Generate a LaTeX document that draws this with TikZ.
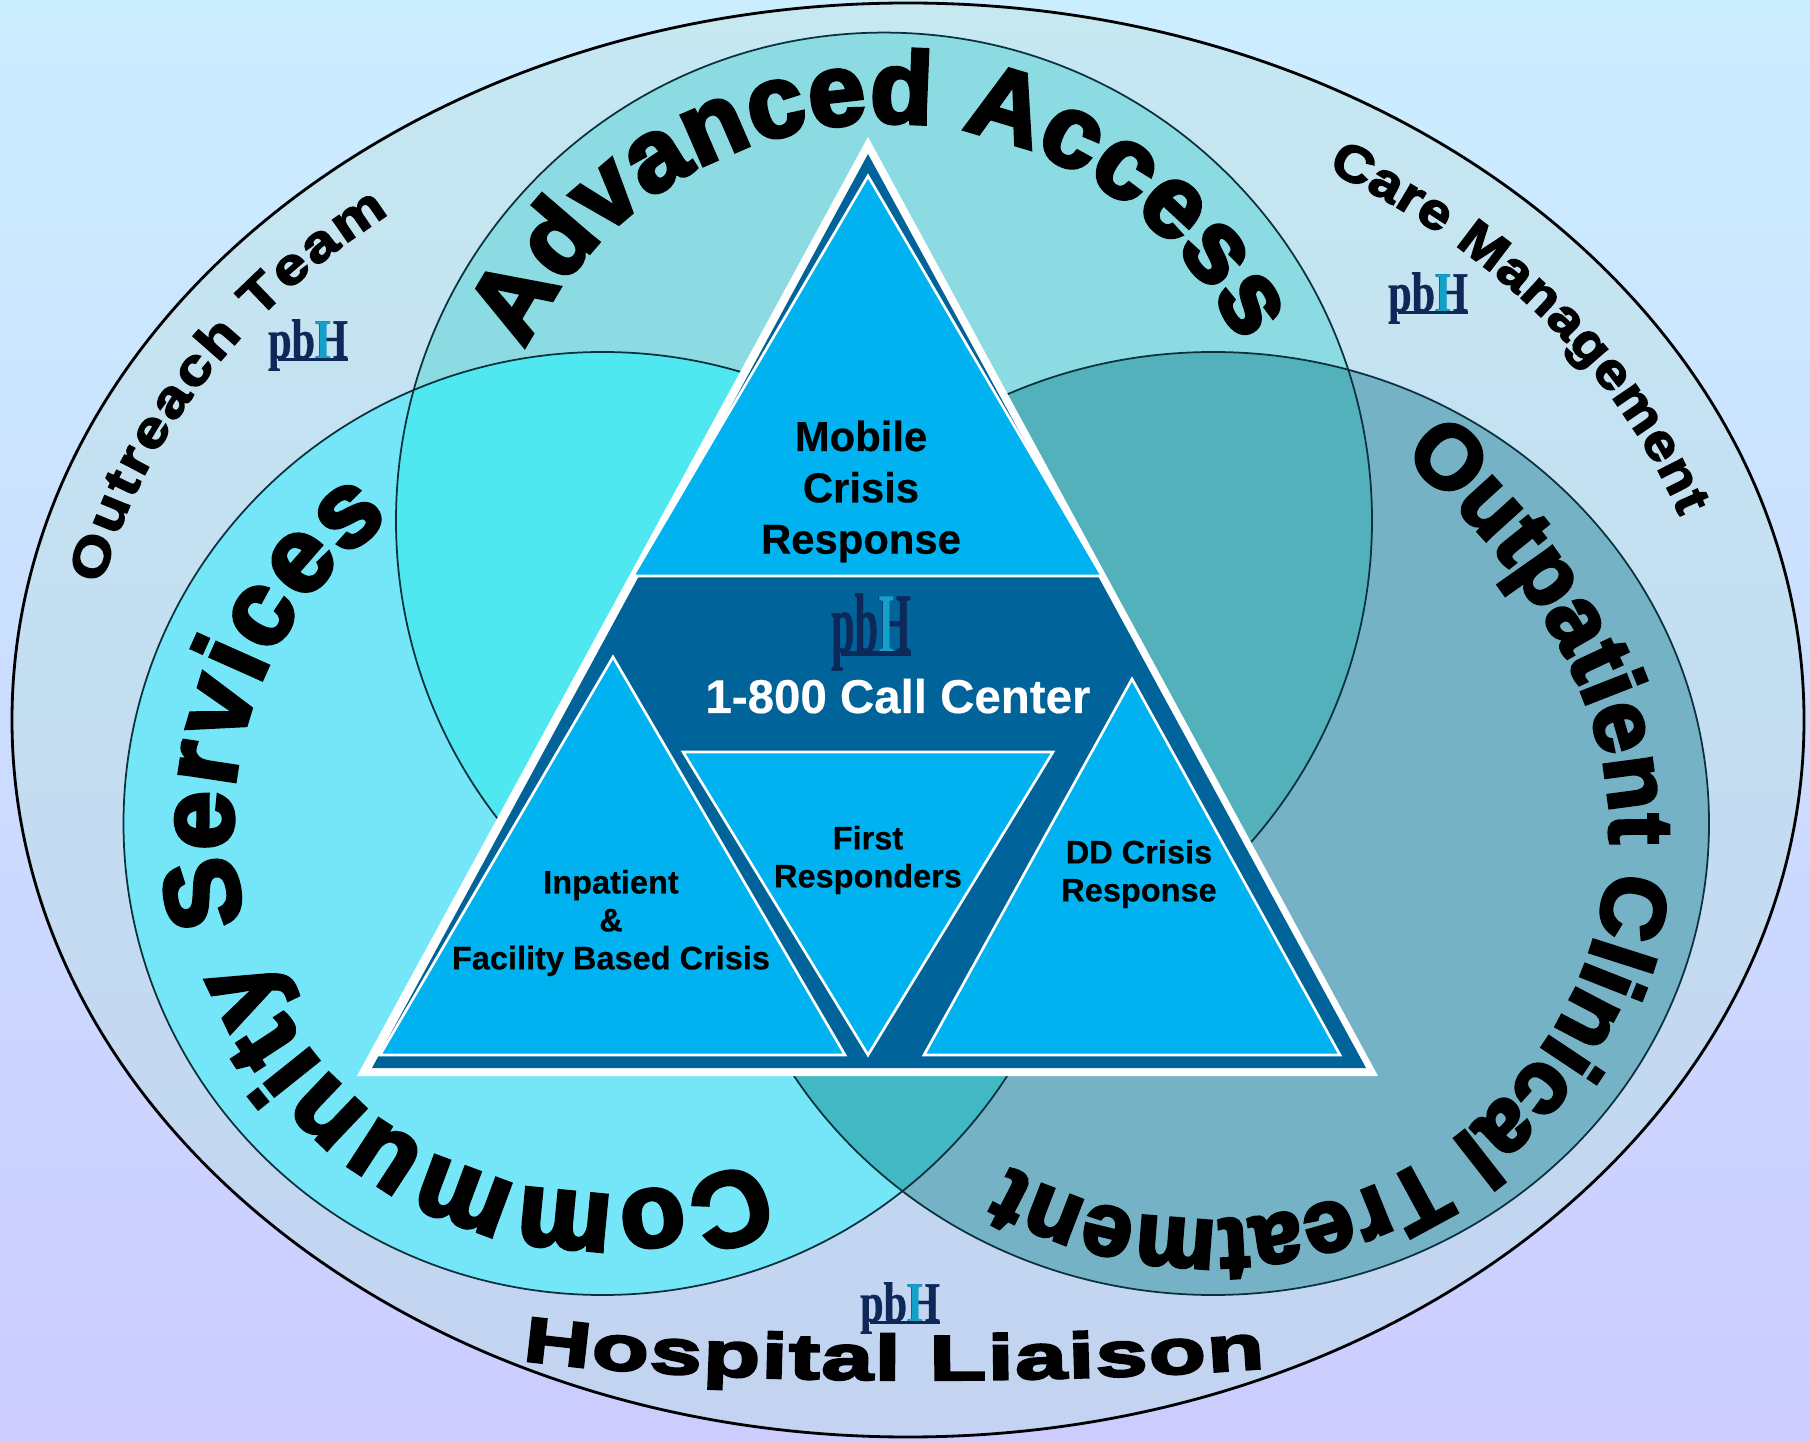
\documentclass[tikz,border=0pt]{standalone}
\usepackage{fontspec}
\usetikzlibrary{decorations.text}
\setmainfont[FakeBold=0.4]{Liberation Sans Bold}
\newfontfamily\arcfont[FakeBold=4]{Liberation Sans Bold}
\newfontfamily\sideFont[FakeBold=3,FakeStretch=1.2]{Liberation Sans Bold}
\newfontfamily\careFont[FakeBold=3,FakeStretch=1.12]{Liberation Sans Bold}
\newfontfamily\wideFont[FakeBold=4,FakeStretch=1.48]{Liberation Sans Bold}
\newfontfamily\logofont[FakeStretch=0.74,FakeBold=0.6]{Liberation Serif Bold}
\newcommand{\bigarc}{\arcfont\fontsize{29}{29}\selectfont}
\newcommand{\comarc}{\arcfont\fontsize{30}{30}\selectfont}
\newcommand{\opdarc}{\arcfont\fontsize{25.5}{25.5}\selectfont}
\newcommand{\smallarc}{\sideFont\fontsize{14.5}{14.5}\selectfont}
\newcommand{\carearc}{\careFont\fontsize{14.5}{14.5}\selectfont}
\newcommand{\widearc}{\wideFont\fontsize{18}{18}\selectfont}
\newcommand{\pbhmark}{pb\rlap{H}\rlap{\textcolor{pbhteal}{I}}\phantom{H}\llap{\rule[-0.6pt]{20pt}{0.8pt}}}
\definecolor{pbhnavy}{RGB}{15, 40, 90}
\definecolor{pbhteal}{RGB}{20, 160, 200}
\definecolor{skytop}{RGB}{203, 238, 255}
\definecolor{skybot}{RGB}{204, 204, 255}
\definecolor{bigtop}{RGB}{197, 232, 241}
\definecolor{bigbot}{RGB}{195, 211, 241}
\definecolor{acc}{RGB}{140, 219, 227}
\definecolor{com}{RGB}{117, 229, 248}
\definecolor{opd}{RGB}{118, 178, 197}
\definecolor{acccom}{RGB}{80, 232, 240}
\definecolor{accopd}{RGB}{82, 177, 186}
\definecolor{comopd}{RGB}{67, 184, 197}
\definecolor{triblue}{RGB}{0, 178, 240}
\definecolor{tridark}{RGB}{0, 99, 154}
\definecolor{rimline}{RGB}{10, 50, 60}
\tikzset{tri/.style = {fill=triblue, draw=white, line width=0.75pt, line join=miter}}
\tikzset{rim/.style = {draw=rimline, line width=0.5pt}}
\tikzset{arctext/.style = {decorate, decoration={text along path, text align={fit to path}, text={#1}}}}
\tikzset{logo/.style = {font=\logofont\fontsize{16.2}{16.2}\selectfont, text=pbhnavy, inner sep=0}}
\tikzset{midlabel/.style = {font=\fontsize{11.9}{14.6}\selectfont, align=center, inner sep=0}}
\tikzset{lowlabel/.style = {font=\fontsize{9.25}{10.8}\selectfont, align=center, inner sep=0}}

\begin{document}
\begin{tikzpicture}
    \useasboundingbox (0, 0) rectangle (18.1, 14.4);
    \shade [top color=skytop, bottom color=skybot] (0, 0) rectangle (18.1, 14.4);
    \shade [top color=bigtop, bottom color=bigbot] (9.08, 7.2) ellipse (8.96 and 7.17);
    \draw [line width=0.8pt] (9.08, 7.2) ellipse (8.96 and 7.17);

    \fill [com] (6.025, 6.165) ellipse (4.79 and 4.715);
    \fill [opd] (12.13, 6.165) ellipse (4.96 and 4.715);
    \fill [acc] (8.84, 9.194) circle [radius=4.88];
    \begin{scope}
      \clip (8.84, 9.194) circle [radius=4.88];
      \fill [acccom] (6.025, 6.165) ellipse (4.79 and 4.715);
      \fill [accopd] (12.13, 6.165) ellipse (4.96 and 4.715);
    \end{scope}
    \begin{scope}
      \clip (6.025, 6.165) ellipse (4.79 and 4.715);
      \fill [comopd] (12.13, 6.165) ellipse (4.96 and 4.715);
    \end{scope}
    \draw [rim] (6.025, 6.165) ellipse (4.79 and 4.715);
    \draw [rim] (12.13, 6.165) ellipse (4.96 and 4.715);
    \draw [rim] (8.84, 9.194) circle [radius=4.88];

    \fill [white] (8.68, 13.03) -- (3.57, 3.64) -- (13.78, 3.64) -- cycle;
    \fill [tridark] (8.68, 12.86) -- (3.72, 3.72) -- (13.66, 3.72) -- cycle;
    \draw [tri] (8.68, 12.64) -- (6.33, 8.64) -- (11.02, 8.64) -- cycle;
    \draw [tri] (6.13, 7.83) -- (3.80, 3.85) -- (8.45, 3.85) -- cycle;
    \draw [tri] (6.83, 6.88) -- (10.53, 6.88) -- (8.68, 3.85) -- cycle;
    \draw [tri] (11.32, 7.61) -- (9.24, 3.85) -- (13.40, 3.85) -- cycle;

    \node [midlabel] (mobile) at (8.61, 9.485) {Mobile\\Crisis\\Response};
    \node [midlabel, text=white, font=\fontsize{13.5}{14}\selectfont, anchor=base] (callcenter) at (8.98, 7.27) {1-800 Call Center};
    \node [lowlabel] (inpatient) at (6.11, 5.17) {Inpatient\\\&\\Facility Based Crisis};
    \node [lowlabel] (first) at (8.68, 5.80) {First\\Responders};
    \node [lowlabel] (ddcrisis) at (11.39, 5.66) {DD Crisis\\Response};

    \path [arctext={|\bigarc|Advanced Access}] (8.84, 9.194) ++(154.5:3.98) arc (154.5:26.5:3.98);
    \path [arctext={|\comarc|Community Services}] (6.025, 6.165) ++(-65.5:3.7) arc (-65.5:-235:3.7);
    \path [arctext={|\opdarc|Outpatient Clinical Treatment}] (14.02, 9.84) .. controls (15.2, 8.8) and (16.1, 7.5) .. (16.1, 6.1) arc [start angle=0, end angle=-120, x radius=4, y radius=3.9];
    \path [arctext={|\smallarc|Outreach Team}] (9.08, 7.2) ++(168:8.24 and 6.51) arc [start angle=168, end angle=129, x radius=8.24, y radius=6.51];
    \path [arctext={|\carearc|Care Management}] (9.08, 7.2) ++(59:8.14 and 6.41) arc [start angle=59, end angle=18.5, x radius=8.14, y radius=6.41];
    \path [arctext={|\widearc|Hospital Liaison}] (5.22, 0.8) .. controls (7, 0.55) and (10.5, 0.55) .. (12.65, 0.72);

    \node [logo] (pbhoutreach) at (3.08, 10.95) {\pbhmark};
    \node [logo] (pbhcare) at (14.28, 11.42) {\pbhmark};
    \node [logo, yscale=1.5, transform shape] (pbhcall) at (8.71, 8.08) {\pbhmark};
    \node [logo] (pbhliaison) at (9.0, 1.32) {\pbhmark};
\end{tikzpicture}
\end{document}
